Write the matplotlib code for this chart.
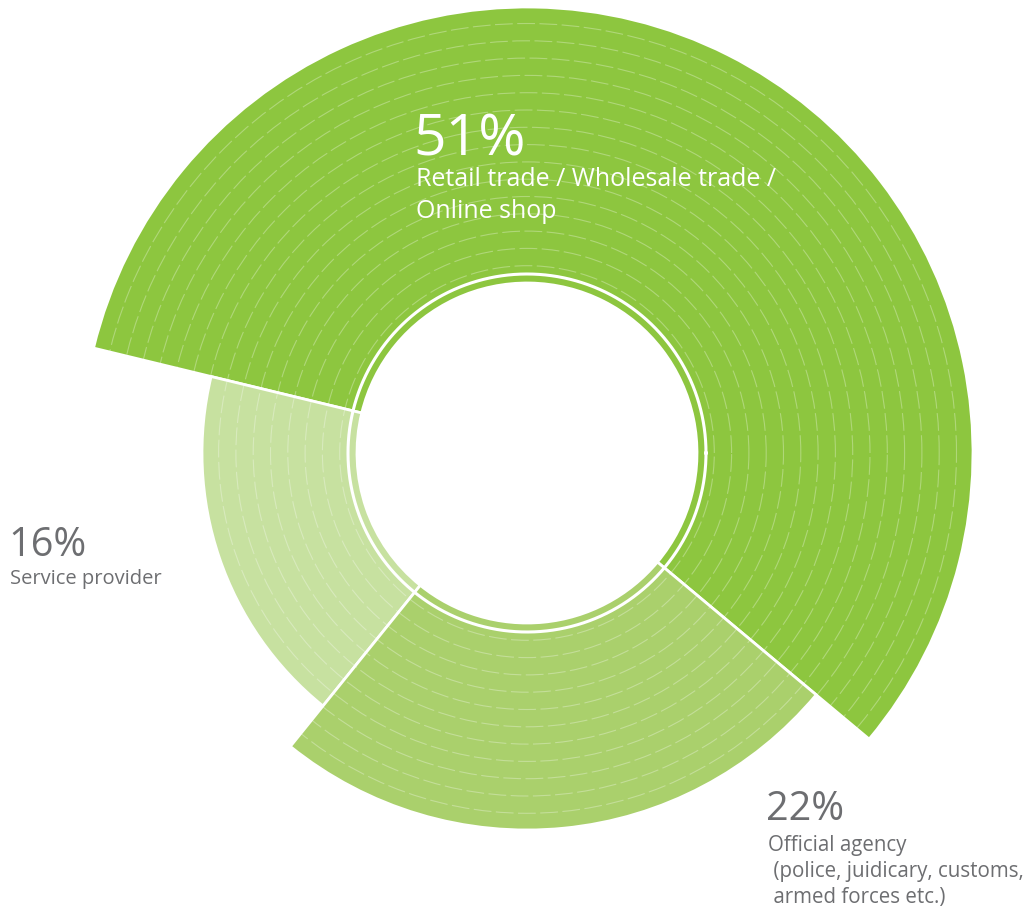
import numpy as np
import matplotlib.pyplot as plt

plt.rcParams['font.family'] = ['Open Sans', 'DejaVu Sans']

# Shares, in the order they run counterclockwise around the ring
labels = ["Retail trade / Wholesale trade /\nOnline shop",
          "Service provider",
          "Official agency\n (police, juidicary, customs,\n armed forces etc.)"]
shares = [51, 16, 22]
outer_r = [446, 325, 377]
colors = ["#8dc63f", "#c7e1a0", "#aad06c"]

W, H = 1033, 913
cx, cy = 527, H - 453   # ring centre in pixels from bottom-left
R = 460                 # axes radius in pixels

fig = plt.figure(figsize=(W / 100, H / 100), dpi=100)
ax = fig.add_axes([(cx - R) / W, (cy - R) / H, 2 * R / W, 2 * R / H],
                  projection='polar')
ax.set_ylim(0, R)

hole = 170
start = np.deg2rad(-39.9)
frac = np.array(shares) / np.sum(shares)
widths = 2 * np.pi * frac
lefts = start + np.concatenate([[0], np.cumsum(widths)[:-1]])

ax.bar(lefts, np.array(outer_r) - hole, width=widths, bottom=hole,
       align='edge', color=colors, edgecolor='white', linewidth=2)

# white ring separating the inner band from the segments
t = np.linspace(0, 2 * np.pi, 720)
ax.plot(t, np.full_like(t, 179), color='white', lw=2.2, zorder=4)

# faint dashed rings over the segments
rings = 187.3 + 17.3 * np.arange(15)
ax.set_yticks(rings)
ax.set_xticks([])
ax.set_yticklabels([])
ax.set_axisbelow(False)
ax.yaxis.grid(True, color='white', alpha=0.3, lw=0.8, ls=(0, (16, 4)))
ax.xaxis.grid(False)
ax.spines['polar'].set_visible(False)
ax.set_facecolor('none')


def put(x, y, s, gap, **kw):
    # one text per line, y is the first baseline in pixels from the top
    for i, line in enumerate(s.split("\n")):
        fig.text(x / W, 1 - (y + i * gap) / H, line, va='baseline', **kw)


gray = "#6d6e71"
put(413, 156, f"{shares[0]}%", 0, color='white', fontsize=41)
put(416, 186, labels[0], 32, color='white', fontsize=18)
put(8, 556, f"{shares[1]}%", 0, color=gray, fontsize=28.5)
put(10, 584, labels[1], 0, color=gray, fontsize=14.5)
put(766, 820, f"{shares[2]}%", 0, color=gray, fontsize=28.5)
put(768, 851, labels[2], 26, color=gray, fontsize=14.8)

fig.savefig("out.png", dpi=100, facecolor='white')
